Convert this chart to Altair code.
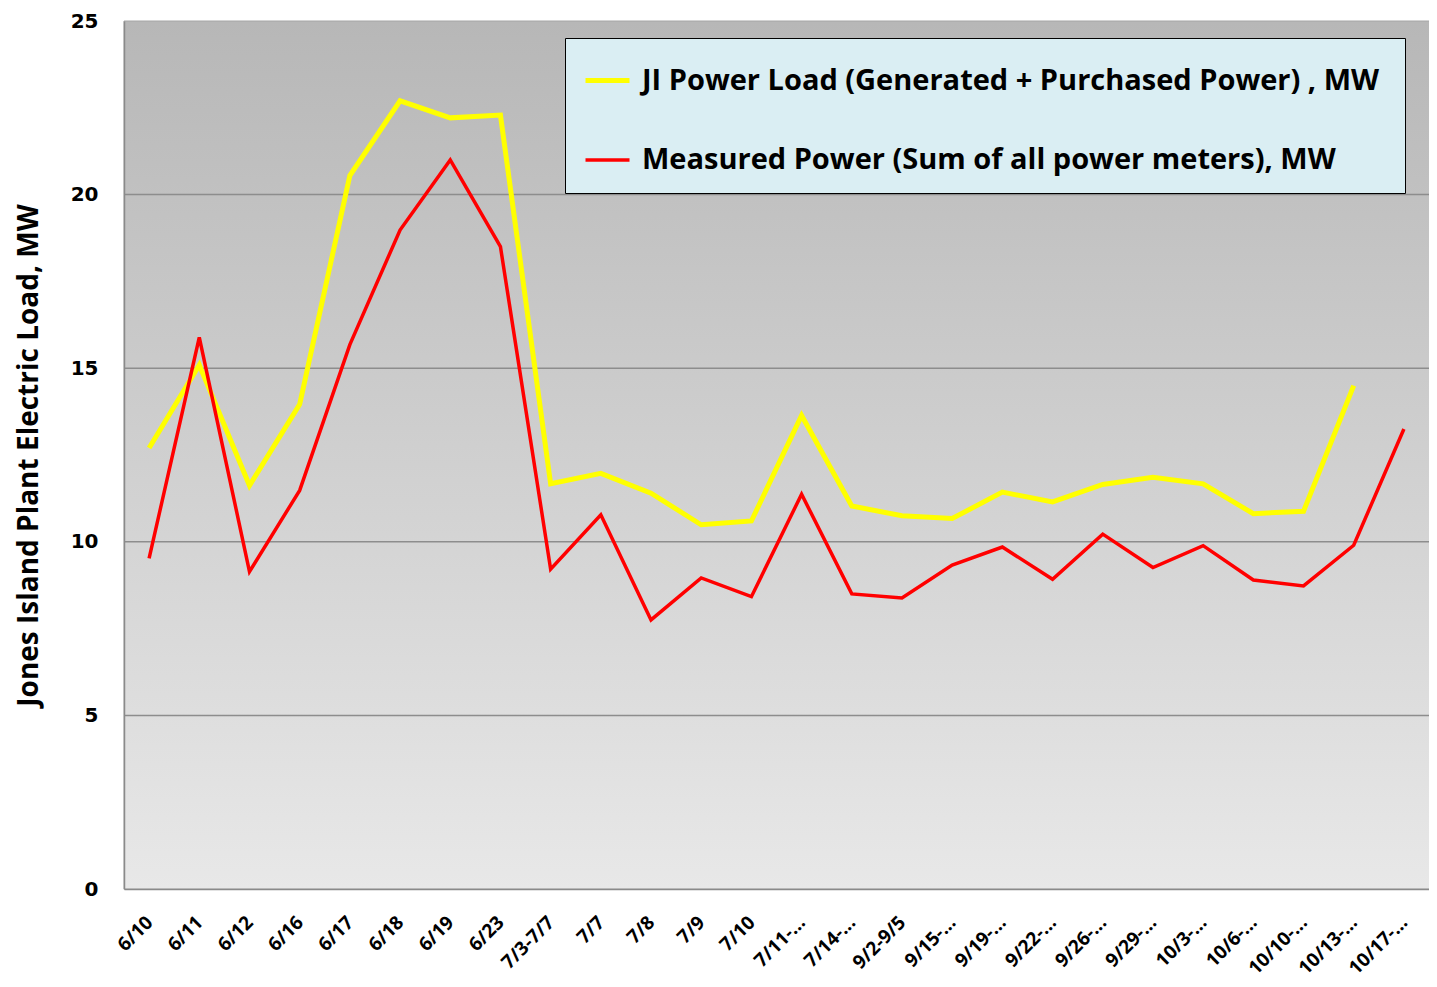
import altair as alt
import pandas as pd

categories = ["6/10", "6/11", "6/12", "6/16", "6/17", "6/18", "6/19", "6/23",
              "7/3-7/7", "7/7", "7/8", "7/9", "7/10", "7/11-...", "7/14-...",
              "9/2-9/5", "9/15-...", "9/19-...", "9/22-...", "9/26-...", "9/29-...",
              "10/3-...", "10/6-...", "10/10-...", "10/13-...", "10/17-..."]
ji_load = [12.70, 15.09, 11.62, 13.96, 20.55, 22.70, 22.21, 22.29, 11.67, 11.97,
           11.40, 10.49, 10.60, 13.64, 11.03, 10.75, 10.67, 11.43, 11.15, 11.65,
           11.86, 11.67, 10.81, 10.88, 14.50, None]
measured = [9.52, 15.89, 9.14, 11.48, 15.68, 18.98, 21.00, 18.50, 9.21, 10.78,
            7.75, 8.96, 8.42, 11.37, 8.50, 8.38, 9.33, 9.85, 8.92, 10.22,
            9.26, 9.89, 8.90, 8.73, 9.90, 13.25]
series_names = ["JI Power Load (Generated + Purchased  Power) , MW",
                "Measured Power (Sum of all power meters), MW"]
series_colors = ["#ffff00", "#ff0000"]
series_widths = [5, 3.5]
grid_values = [5, 10, 15, 20]
y_ticks = [0, 5, 10, 15, 20, 25]

rows = []
for name, vals in zip(series_names, [ji_load, measured]):
    for c, v in zip(categories, vals):
        if v is not None:
            rows.append({"cat": c, "val": v, "series": name})
df = pd.DataFrame(rows)

W, H = 1305, 868

y_scale = alt.Scale(domain=[0, 25])
y_axis = alt.Axis(values=y_ticks, title="Jones Island Plant Electric Load, MW",
                  titleFont="Open Sans", titleFontSize=28, titleFontWeight="bold",
                  titleColor="black", titlePadding=27,
                  labelFont="DejaVu Sans", labelFontWeight="bold", labelFontSize=20,
                  labelColor="black", labelPadding=26, ticks=False,
                  domainColor="#8a8a8a", domainWidth=1.5, grid=False, zindex=1)

bg = alt.Chart(alt.Data(values=[{}])).mark_rect(
    fill=alt.LinearGradient(gradient="linear",
                            stops=[alt.GradientStop(color="#b7b7b7", offset=0),
                                   alt.GradientStop(color="#e8e8e8", offset=1)],
                            x1=0, x2=0, y1=0, y2=1),
    stroke="#a6a6a6", strokeWidth=1
).encode(x=alt.value(0), x2=alt.value(W + 10), y=alt.value(0), y2=alt.value(H))

grid = alt.Chart(pd.DataFrame({"val": grid_values})).mark_rule(
    color="#8d8d8d", strokeWidth=1.5
).encode(y=alt.Y("val:Q", scale=y_scale, axis=y_axis))

lines = alt.Chart(df).mark_line().encode(
    x=alt.X("cat:N", sort=categories, scale=alt.Scale(padding=0.5),
            axis=alt.Axis(title=None, labelAngle=-45, labelAlign="right",
                          labelBaseline="middle", labelFont="Open Sans",
                          labelFontWeight="bold", labelFontSize=19, labelColor="black",
                          labelPadding=30, ticks=False, domainColor="#8a8a8a",
                          domainWidth=1.5, labelOverlap=False, grid=False, zindex=1)),
    y=alt.Y("val:Q", scale=y_scale, axis=y_axis),
    color=alt.Color("series:N", scale=alt.Scale(domain=series_names, range=series_colors),
                    legend=alt.Legend(title=None, orient="none", legendX=441, legendY=17,
                                      fillColor="#daeef3", strokeColor="black",
                                      padding=18, labelFont="Open Sans", labelFontSize=29,
                                      labelFontWeight="bold", labelColor="black",
                                      labelLimit=2000, symbolType="stroke",
                                      symbolSize=1936, symbolStrokeWidth=5,
                                      rowPadding=40, labelOffset=10)),
    strokeWidth=alt.StrokeWidth("series:N",
                                scale=alt.Scale(domain=series_names, range=series_widths),
                                legend=None),
)

chart = alt.layer(bg, grid, lines).properties(
    width=W, height=H,
    autosize=alt.AutoSizeParams(type="none"),
    padding={"left": 116, "top": 13, "right": 0, "bottom": 90},
    background="white",
).configure_view(strokeWidth=0)

chart.save("out.html", embed_options={"renderer": "svg", "actions": False})
